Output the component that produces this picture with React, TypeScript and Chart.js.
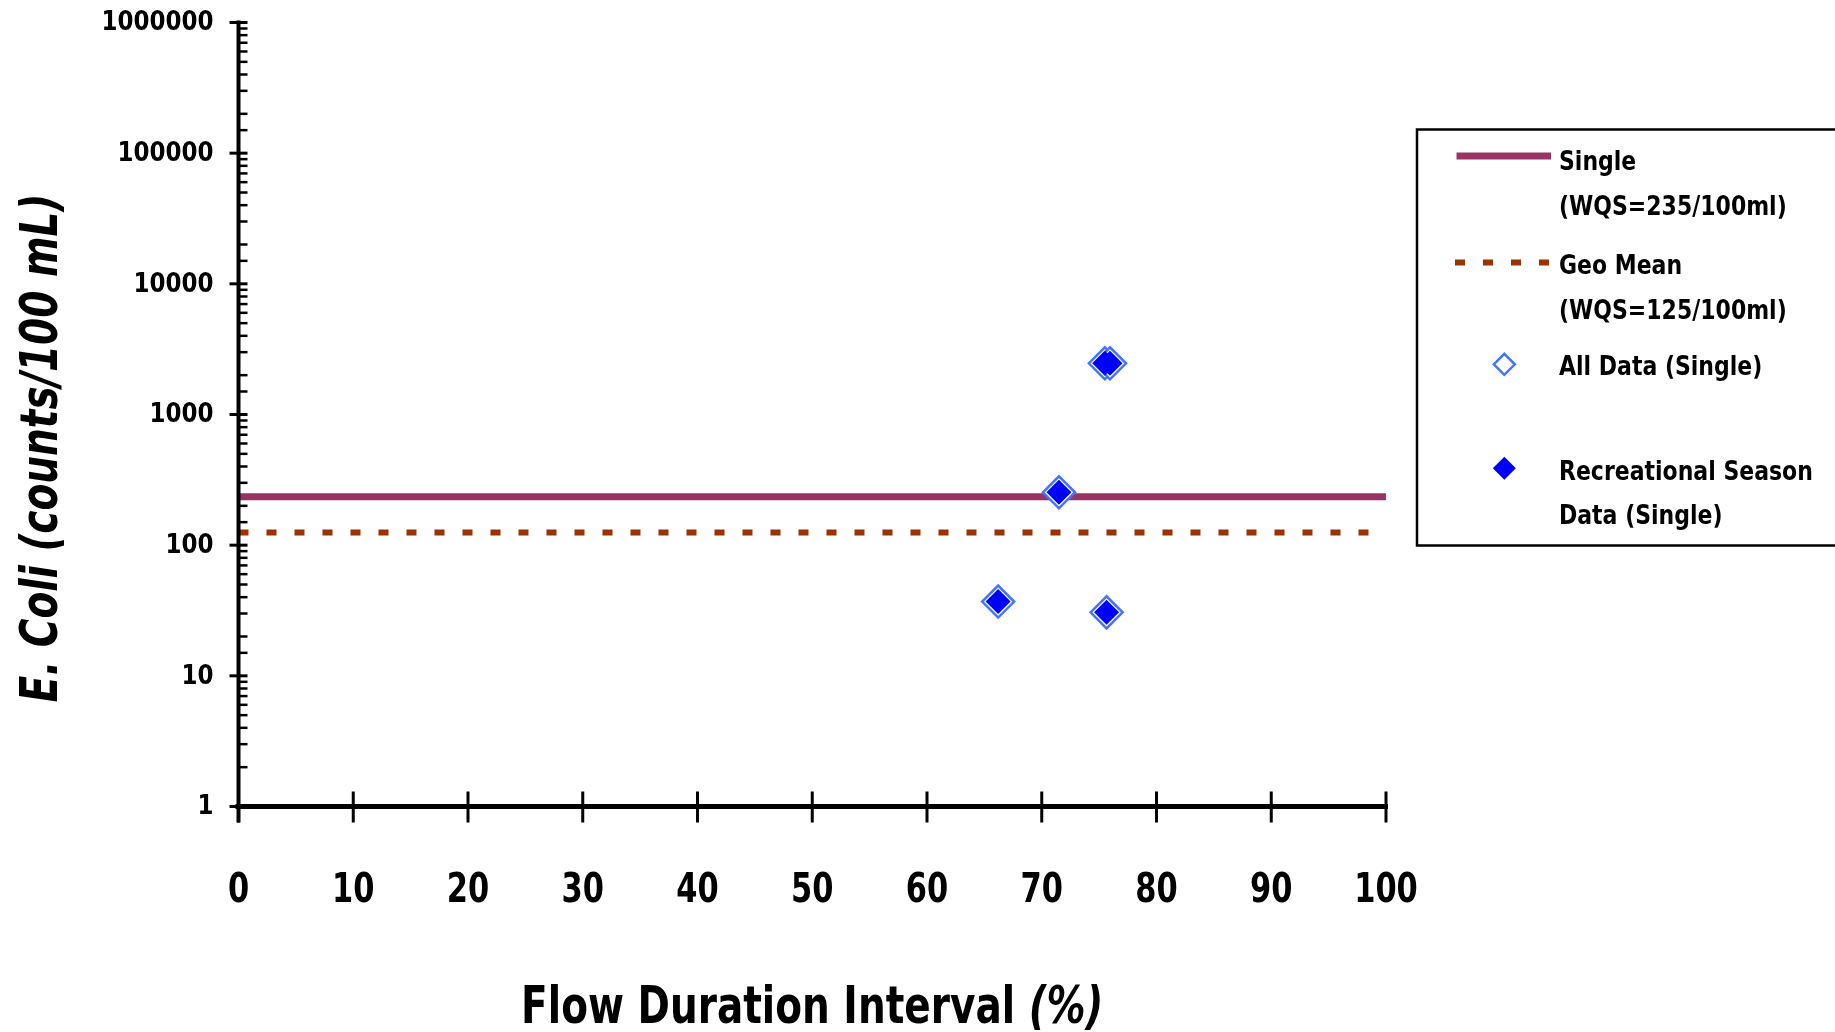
import React, { useEffect, useRef } from 'react';
import { Chart, registerables } from 'chart.js';

Chart.register(...registerables);

// ---------- data ----------
const allDataX = [66.2, 71.5, 75.5, 75.95, 75.65];
const allDataY = [37, 254, 2465, 2465, 30.6];
const recSeasonX = [66.2, 71.5, 75.5, 75.95, 75.65];
const recSeasonY = [37, 254, 2465, 2465, 30.6];
const singleWQS = 235;
const geoMeanWQS = 125;
const xRange = [0, 100];
const xMin = 0;
const xMax = 100;
const xStep = 10;
const yMin = 1;
const yMax = 1000000;
const legendSingle = ['Single', '(WQS=235/100ml)'];
const legendGeo = ['Geo Mean', '(WQS=125/100ml)'];
const legendAll = ['All Data (Single)'];
const legendRec = ['Recreational Season', 'Data (Single)'];
const xTitleMain = 'Flow Duration Interval ';
const xTitleUnit = '(%)';
const yTitle = 'E. Coli (counts/100 mL)';

const FAMILY = "'DejaVu Sans', sans-serif";

function stretchText(
  ctx: CanvasRenderingContext2D,
  text: string,
  x: number,
  y: number,
  font: string,
  sy: number,
  align: CanvasTextAlign = 'left'
) {
  ctx.save();
  ctx.font = font;
  ctx.textAlign = align;
  ctx.textBaseline = 'alphabetic';
  ctx.fillStyle = '#000';
  ctx.translate(x, y);
  ctx.scale(1, sy);
  ctx.fillText(text, 0, 0);
  ctx.restore();
}

function seg(ctx: CanvasRenderingContext2D, a: number, b: number, c: number, d: number) {
  ctx.beginPath();
  ctx.moveTo(a, b);
  ctx.lineTo(c, d);
  ctx.stroke();
}

function diamond(ctx: CanvasRenderingContext2D, cx: number, cy: number, r: number) {
  ctx.beginPath();
  ctx.moveTo(cx - r, cy);
  ctx.lineTo(cx, cy - r);
  ctx.lineTo(cx + r, cy);
  ctx.lineTo(cx, cy + r);
  ctx.closePath();
}

function isDecade(v: number) {
  const lg = Math.log10(v);
  return Math.abs(lg - Math.round(lg)) < 1e-6;
}

const axesPlugin = {
  id: 'customAxes',
  afterDraw(chart: any) {
    const { ctx, scales } = chart;
    const x = scales.x;
    const y = scales.y;
    const x0 = x.getPixelForValue(xMin);
    const x1 = x.getPixelForValue(xMax);
    const yb = y.getPixelForValue(yMin);
    const yt = y.getPixelForValue(yMax);
    ctx.save();
    ctx.strokeStyle = '#000';
    ctx.lineCap = 'butt';
    ctx.lineWidth = 4;
    seg(ctx, x0, yt - 2, x0, yb + 16);
    ctx.lineWidth = 5;
    seg(ctx, x0 - 3, yb, x1 + 2, yb);

    const yFont = `bold 23px ${FAMILY}`;
    y.ticks.forEach((t: any) => {
      const p = y.getPixelForValue(t.value);
      const major = isDecade(t.value);
      ctx.lineWidth = major ? 3 : 2.5;
      seg(ctx, major ? x0 - 9 : x0, p, x0 + 9, p);
      if (major) {
        stretchText(ctx, String(t.value), 213.5, p + 7.8, yFont, 1.16, 'right');
      }
    });

    const xFont = `bold 30.5px ${FAMILY}`;
    x.ticks.forEach((t: any) => {
      const p = x.getPixelForValue(t.value);
      ctx.lineWidth = 3;
      seg(ctx, p, yb - 15, p, yb + 16);
      stretchText(ctx, String(t.value), p, 901.7, xFont, 1.36, 'center');
    });

    // x title (mixed style)
    const fMain = `bold 39px ${FAMILY}`;
    const fUnit = `italic bold 39px ${FAMILY}`;
    ctx.font = fMain;
    const w1 = ctx.measureText(xTitleMain).width;
    ctx.font = fUnit;
    const w2 = ctx.measureText(xTitleUnit).width;
    const cx = (x0 + x1) / 2;
    const sx = cx - (w1 + w2) / 2;
    stretchText(ctx, xTitleMain, sx, 1023, fMain, 1.3);
    stretchText(ctx, xTitleUnit, sx + w1, 1023, fUnit, 1.3);

    // y title
    ctx.save();
    ctx.font = `italic bold 39px ${FAMILY}`;
    ctx.fillStyle = '#000';
    ctx.textAlign = 'center';
    ctx.textBaseline = 'alphabetic';
    ctx.translate(57, 448);
    ctx.rotate(-Math.PI / 2);
    ctx.scale(1, 1.3);
    ctx.fillText(yTitle, 0, 0);
    ctx.restore();
    ctx.restore();
  },
};

const legendPlugin = {
  id: 'customLegend',
  afterDraw(chart: any) {
    const { ctx } = chart;
    const ds = chart.data.datasets;
    ctx.save();
    ctx.fillStyle = '#fff';
    ctx.fillRect(1417, 129.5, 480, 416);
    ctx.strokeStyle = '#000';
    ctx.lineWidth = 2.5;
    ctx.strokeRect(1417, 129.5, 480, 416);

    ctx.strokeStyle = ds[0].borderColor;
    ctx.lineWidth = ds[0].borderWidth;
    seg(ctx, 1456.5, 156, 1551, 156);
    ctx.strokeStyle = ds[1].borderColor;
    ctx.lineWidth = ds[1].borderWidth;
    ctx.setLineDash(ds[1].borderDash);
    seg(ctx, 1455, 262.5, 1551, 262.5);
    ctx.setLineDash([]);
    diamond(ctx, 1504.3, 364.3, 10.5);
    ctx.strokeStyle = ds[2].borderColor;
    ctx.lineWidth = ds[2].borderWidth;
    ctx.stroke();
    diamond(ctx, 1504.3, 468.3, 11.5);
    ctx.fillStyle = ds[3].backgroundColor;
    ctx.fill();

    const f = `bold 22px ${FAMILY}`;
    const tx = 1559;
    const s = 1.24;
    stretchText(ctx, legendSingle[0], tx, 170, f, s);
    stretchText(ctx, legendSingle[1], tx, 215, f, s);
    stretchText(ctx, legendGeo[0], tx, 274, f, s);
    stretchText(ctx, legendGeo[1], tx, 319, f, s);
    stretchText(ctx, legendAll[0], tx, 375, f, s);
    stretchText(ctx, legendRec[0], tx, 479.5, f, s);
    stretchText(ctx, legendRec[1], tx, 523.5, f, s);
    ctx.restore();
  },
};

export default function App() {
  const ref = useRef<HTMLCanvasElement | null>(null);

  useEffect(() => {
    if (!ref.current) return;
    const chart = new Chart(ref.current, {
      type: 'scatter',
      data: {
        datasets: [
          {
            label: 'Single (WQS=235/100ml)',
            data: xRange.map((v) => ({ x: v, y: singleWQS })),
            showLine: true,
            borderColor: '#993366',
            backgroundColor: '#993366',
            borderWidth: 7,
            pointRadius: 0,
            order: 2,
          },
          {
            label: 'Geo Mean (WQS=125/100ml)',
            data: xRange.map((v) => ({ x: v, y: geoMeanWQS })),
            showLine: true,
            borderColor: '#993300',
            backgroundColor: '#993300',
            borderWidth: 6,
            borderDash: [10, 18],
            borderCapStyle: 'butt',
            pointRadius: 0,
            order: 3,
          },
          {
            label: 'All Data (Single)',
            data: allDataX.map((v, i) => ({ x: v, y: allDataY[i] })),
            pointStyle: 'rectRot',
            pointRadius: 16,
            borderColor: '#4273FF',
            backgroundColor: '#ffffff',
            borderWidth: 2.5,
            order: 1,
          },
          {
            label: 'Recreational Season Data (Single)',
            data: recSeasonX.map((v, i) => ({ x: v, y: recSeasonY[i] })),
            pointStyle: 'rectRot',
            pointRadius: 12.5,
            borderColor: '#0000FF',
            backgroundColor: '#0000FF',
            borderWidth: 0,
            order: 0,
          },
        ] as any,
      },
      options: {
        responsive: false,
        animation: false,
        devicePixelRatio: 1,
        layout: { padding: { left: 0, top: 22.5, right: 449, bottom: 0 } },
        plugins: {
          legend: { display: false },
          tooltip: { enabled: false },
          title: { display: false },
        },
        scales: {
          x: {
            type: 'linear',
            position: 'bottom',
            min: xMin,
            max: xMax,
            grid: { display: false, drawTicks: false, tickLength: 0 },
            border: { display: false },
            ticks: { stepSize: xStep, autoSkip: false, display: false },
            afterFit: (s: any) => {
              s.height = 225.5;
              s.paddingLeft = 0;
              s.paddingRight = 0;
              s.paddingTop = 0;
              s.paddingBottom = 0;
            },
          },
          y: {
            type: 'logarithmic',
            min: yMin,
            max: yMax,
            grid: { display: false, drawTicks: false, tickLength: 0 },
            border: { display: false },
            ticks: { autoSkip: false, display: false },
            afterFit: (s: any) => {
              s.width = 238.5;
              s.paddingLeft = 0;
              s.paddingRight = 0;
              s.paddingTop = 0;
              s.paddingBottom = 0;
            },
          },
        } as any,
      },
      plugins: [axesPlugin, legendPlugin],
    });
    return () => chart.destroy();
  }, []);

  return (
    <div style={{ position: 'fixed', left: 0, top: 0, width: 1835, height: 1032, background: '#fff' }}>
      <canvas ref={ref} width={1835} height={1032} style={{ display: 'block' }} />
    </div>
  );
}
